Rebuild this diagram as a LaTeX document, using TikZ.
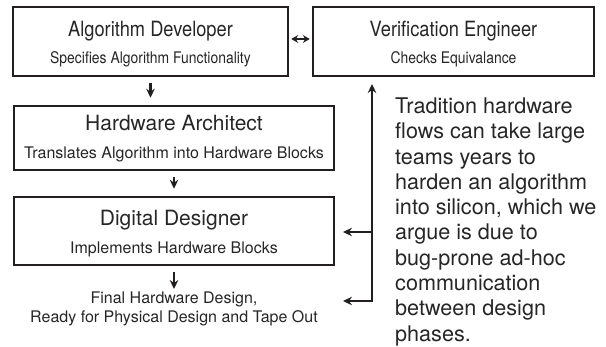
\documentclass[tikz,border=0pt]{standalone}
\usepackage{fontspec}
\setmainfont{TeX Gyre Heros}
\newfontfamily\condfont[FakeStretch=0.87]{TeX Gyre Heros}
\usetikzlibrary{arrows.meta}
\definecolor{ink}{HTML}{231F20}
\definecolor{txt}{HTML}{262626}
\begin{document}
\begin{tikzpicture}[x=1pt,y=-1pt,
  box/.style={draw=ink,line width=2.5pt,inner sep=0pt},
  ttltop/.style={text=txt,inner sep=0pt,anchor=base,font=\condfont\fontsize{21}{24}\selectfont},
  subtop/.style={text=txt,inner sep=0pt,anchor=base,font=\condfont\fontsize{16}{19}\selectfont},
  ttl/.style={text=txt,inner sep=0pt,anchor=base,font=\fontsize{21}{24}\selectfont},
  sub/.style={text=txt,inner sep=0pt,anchor=base,font=\fontsize{16}{19}\selectfont},
  arr/.style={draw=ink,line width=2.1pt,-{Stealth[length=9pt,width=8.5pt,inset=3pt]},shorten <=6pt,shorten >=7pt},
  plainarr/.style={draw=ink,line width=2.1pt,-{Stealth[length=9pt,width=8.5pt,inset=3pt]}},
  dbl/.style={draw=ink,line width=2.1pt,{Stealth[length=9pt,width=8.5pt,inset=3pt]}-{Stealth[length=9pt,width=8.5pt,inset=3pt]}},
  dblsmall/.style={draw=ink,line width=2pt,{Stealth[length=7pt,width=8pt,inset=2.5pt]}-{Stealth[length=7pt,width=8pt,inset=2.5pt]}},
]
\useasboundingbox (0,0) rectangle (606,346);

% boxes
\node[box,minimum width=275pt,minimum height=69pt] (ad) at (150.5,41.5) {};
\node[box,minimum width=281pt,minimum height=69pt] (ve) at (453.5,41.5) {};
\node[box,minimum width=320pt,minimum height=64pt] (ha) at (174,138) {};
\node[box,minimum width=320pt,minimum height=68pt] (dd) at (174,231) {};

% texts
\node[ttltop] (adt) at (150.5,36.5) {Algorithm Developer};
\node[subtop] (ads) at (150.5,63.5) {Specifies Algorithm Functionality};
\node[ttltop] (vet) at (453.5,36.5) {Verification Engineer};
\node[subtop] (ves) at (453.5,63.5) {Checks Equivalance};
\node[ttl] (hat) at (174,130.5) {Hardware Architect};
\node[sub] (has) at (174,158.5) {Translates Algorithm into Hardware Blocks};
\node[ttl] (ddt) at (174,225) {Digital Designer};
\node[sub] (dds) at (174,253.5) {Implements Hardware Blocks};
\node[sub] (fin1) at (174,303) {Final Hardware Design,};
\node[sub] (fin2) at (174,322) {Ready for Physical Design and Tape Out};

\node[text=txt,inner sep=0pt,anchor=north west,align=left,
      font=\fontsize{21.6}{25.3}\selectfont] (para) at (395,97.5)
  {Tradition hardware\\flows can take large\\teams years to\\harden an algorithm\\into silicon, which we\\argue is due to\\bug-prone ad-hoc\\communication\\between design\\phases.};

% vertical arrows
\draw[arr] (ad.south) -- (ad.south |- ha.north);
\draw[arr] (ha.south) -- (dd.north);
\coordinate (fintop) at (174,289);
\draw[arr,shorten >=0pt] (dd.south) -- (fintop);

% double arrow between top boxes
\draw[dblsmall,shorten <=2pt,shorten >=2pt] ([yshift=2.5pt]ad.east) -- ([yshift=2.5pt]ve.west);

% feedback line
\coordinate (jt) at (372,84);
\coordinate (jm) at (372,232);
\coordinate (jb) at (372,301);
\coordinate (dm) at (343,232);
\coordinate (fb) at (343,301);
\draw[dbl] (jt) -- (jb) -- (fb);
\draw[plainarr] (jm) -- (dm);
\end{tikzpicture}
\end{document}
